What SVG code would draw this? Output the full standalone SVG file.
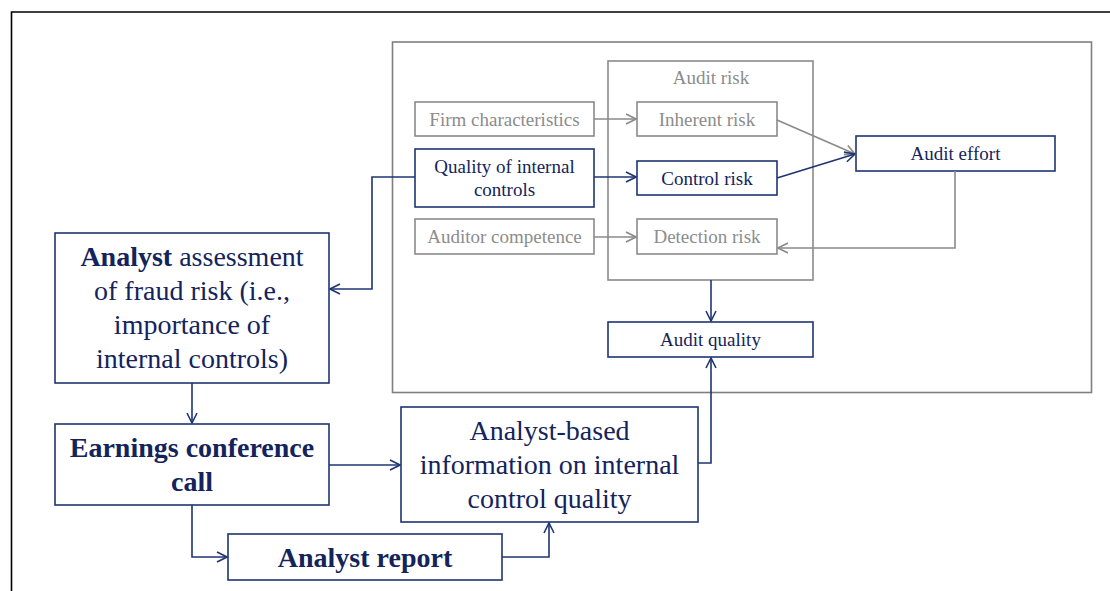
<svg xmlns="http://www.w3.org/2000/svg" width="1110" height="591" viewBox="0 0 1110 591">
<style>
.nb{fill:#fff;stroke:#1f3573;stroke-width:1.6}
.gb{fill:#fff;stroke:#8a8a8a;stroke-width:1.6}
.gf{fill:none;stroke:#7f7f7f;stroke-width:1.6}
.tn{fill:#13245c;text-anchor:middle}
.tg{fill:#8c8c8c;text-anchor:middle}
.s{font-size:19px}
.l{font-size:28px}
.b{font-weight:bold}
.cn{fill:none;stroke:#1f3573;stroke-width:1.6}
.cg{fill:none;stroke:#8a8a8a;stroke-width:1.6}
</style>
<defs>
<marker id="an" viewBox="0 0 12 12" refX="11" refY="6" markerWidth="12" markerHeight="12" markerUnits="userSpaceOnUse" orient="auto">
<path d="M1,1 L11,6 L1,11" fill="none" stroke="#1f3573" stroke-width="1.6"/>
</marker>
<marker id="ag" viewBox="0 0 12 12" refX="11" refY="6" markerWidth="12" markerHeight="12" markerUnits="userSpaceOnUse" orient="auto">
<path d="M1,1 L11,6 L1,11" fill="none" stroke="#8a8a8a" stroke-width="1.6"/>
</marker>
</defs>
<rect width="1110" height="591" fill="#fff"/>
<path d="M11.5,591 V12 H1110" fill="none" stroke="#000" stroke-width="1.6"/>
<rect x="392.5" y="42" width="699" height="350.5" class="gf"/>
<g id="audit-risk">
<rect x="608" y="61" width="205" height="219" class="gb"/>
<text x="711" y="84" class="tg s" font-family="Liberation Serif">Audit risk</text>
</g>
<g id="firm-characteristics">
<rect x="415" y="102" width="179" height="34" class="gb"/>
<text x="504.5" y="126" class="tg s" font-family="Liberation Serif">Firm characteristics</text>
</g>
<g id="quality-internal-controls">
<rect x="415" y="149" width="179" height="58" class="nb"/>
<text x="504.5" y="173" class="tn s" font-family="Liberation Serif">Quality of internal</text>
<text x="504.5" y="196" class="tn s" font-family="Liberation Serif">controls</text>
</g>
<g id="auditor-competence">
<rect x="415" y="219" width="179" height="35" class="gb"/>
<text x="504.5" y="243" class="tg s" font-family="Liberation Serif">Auditor competence</text>
</g>
<g id="inherent-risk">
<rect x="637" y="102" width="140" height="34" class="gb"/>
<text x="707" y="126" class="tg s" font-family="Liberation Serif">Inherent risk</text>
</g>
<g id="control-risk">
<rect x="637" y="161" width="140" height="34" class="nb"/>
<text x="707" y="185" class="tn s" font-family="Liberation Serif">Control risk</text>
</g>
<g id="detection-risk">
<rect x="637" y="219" width="140" height="35" class="gb"/>
<text x="707" y="243" class="tg s" font-family="Liberation Serif">Detection risk</text>
</g>
<g id="audit-effort">
<rect x="856" y="136" width="199" height="35" class="nb"/>
<text x="955.5" y="160" class="tn s" font-family="Liberation Serif">Audit effort</text>
</g>
<g id="audit-quality">
<rect x="608" y="322" width="205" height="35" class="nb"/>
<text x="710.5" y="346" class="tn s" font-family="Liberation Serif">Audit quality</text>
</g>
<g id="analyst-assessment">
<rect x="55" y="233" width="274" height="150" class="nb"/>
<text x="192" y="266" class="tn l" font-family="Liberation Serif"><tspan font-weight="bold">Analyst</tspan> assessment</text>
<text x="192" y="300" class="tn l" font-family="Liberation Serif">of fraud risk (i.e.,</text>
<text x="192" y="334" class="tn l" font-family="Liberation Serif">importance of</text>
<text x="192" y="368" class="tn l" font-family="Liberation Serif">internal controls)</text>
</g>
<g id="earnings-call">
<rect x="55" y="424" width="274" height="81" class="nb"/>
<text x="192" y="457" class="tn l b" font-family="Liberation Serif">Earnings conference</text>
<text x="192" y="491" class="tn l b" font-family="Liberation Serif">call</text>
</g>
<g id="analyst-report">
<rect x="228" y="534" width="274" height="46" class="nb"/>
<text x="365" y="567" class="tn l b" font-family="Liberation Serif">Analyst report</text>
</g>
<g id="analyst-based-info">
<rect x="401" y="407" width="297" height="115" class="nb"/>
<text x="549.5" y="440" class="tn l" font-family="Liberation Serif">Analyst-based</text>
<text x="549.5" y="474" class="tn l" font-family="Liberation Serif">information on internal</text>
<text x="549.5" y="508" class="tn l" font-family="Liberation Serif">control quality</text>
</g>
<g id="connectors">
<path d="M594,119 H636" class="cg" marker-end="url(#ag)"/>
<path d="M594,237 H636" class="cg" marker-end="url(#ag)"/>
<path d="M594,177 H636" class="cn" marker-end="url(#an)"/>
<path d="M777,120 L855,154" class="cg" marker-end="url(#ag)"/>
<path d="M777,178 L855,154" class="cn" marker-end="url(#an)"/>
<path d="M955,171 V248 H778" class="cg" marker-end="url(#ag)"/>
<path d="M711,280 V321" class="cn" marker-end="url(#an)"/>
<path d="M415,177 H372 V289 H330" class="cn" marker-end="url(#an)"/>
<path d="M192,383 V423" class="cn" marker-end="url(#an)"/>
<path d="M329,465 H400" class="cn" marker-end="url(#an)"/>
<path d="M192,505 V557 H227" class="cn" marker-end="url(#an)"/>
<path d="M502,557 H549 V523" class="cn" marker-end="url(#an)"/>
<path d="M698,463 H711 V358" class="cn" marker-end="url(#an)"/>
</g>
</svg>
